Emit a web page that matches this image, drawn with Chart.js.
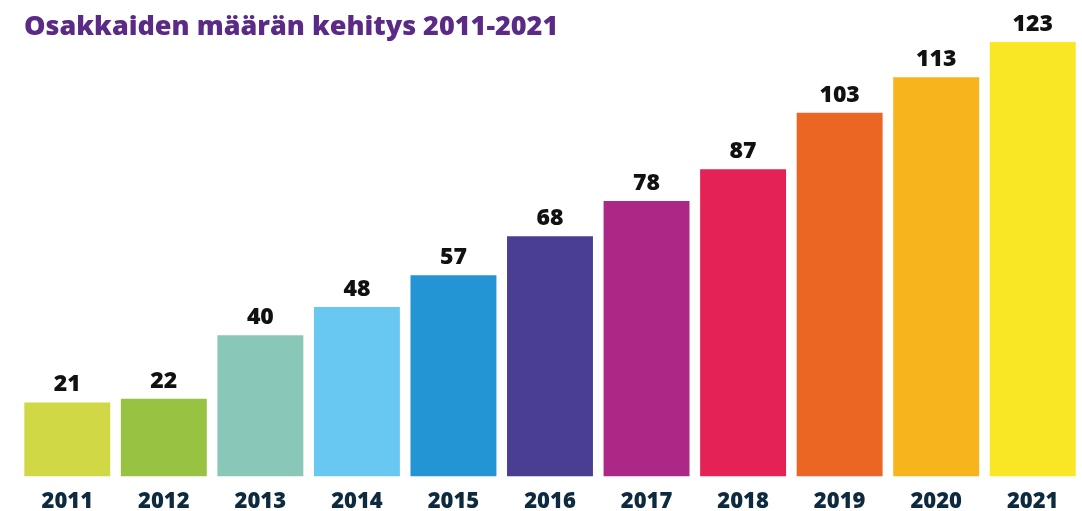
<!DOCTYPE html>
<html>
<head>
<meta charset="utf-8">
<script src="https://cdn.jsdelivr.net/npm/chart.js@4"></script>
<style>
  html, body { margin: 0; padding: 0; background: #fff; }
  #wrap { width: 1082px; height: 511px; }
</style>
</head>
<body>
<div id="wrap"><canvas id="chart"></canvas></div>
<script>
// data
const years = ["2011", "2012", "2013", "2014", "2015", "2016", "2017", "2018", "2019", "2020", "2021"];
const owners = [21, 22, 40, 48, 57, 68, 78, 87, 103, 113, 123];
const barColors = ["#d0d845", "#97c242", "#89c8b8", "#69c8f2", "#2394d4", "#4a3e92",
                   "#ab2886", "#e42256", "#eb6622", "#f7b41c", "#f9e725"];
const titleText = "Osakkaiden määrän kehitys 2011-2021";

// numbers above the bars
const valueLabels = {
    id: "valueLabels",
    afterDatasetsDraw(chart) {
        const ctx = chart.ctx;
        const meta = chart.getDatasetMeta(0);
        ctx.save();
        ctx.font = "800 23px 'Open Sans'";
        ctx.fillStyle = "#111";
        ctx.textAlign = "center";
        ctx.textBaseline = "alphabetic";
        meta.data.forEach((bar, i) => {
            ctx.fillText(owners[i], bar.x, bar.y - 11);
        });
        ctx.restore();
    }
};

// title at top left
const topTitle = {
    id: "topTitle",
    afterDraw(chart) {
        const ctx = chart.ctx;
        ctx.save();
        ctx.font = "800 27px 'Open Sans'";
        ctx.fillStyle = "#5b2a86";
        ctx.textAlign = "left";
        ctx.textBaseline = "middle";
        ctx.fillText(titleText, 24, 27);
        ctx.restore();
    }
};

new Chart(document.getElementById("chart"), {
    type: "bar",
    data: {
        labels: years,
        datasets: [{
            data: owners,
            backgroundColor: barColors,
            barPercentage: 0.89,
            categoryPercentage: 1.0
        }]
    },
    options: {
        responsive: true,
        maintainAspectRatio: false,
        animation: false,
        layout: { padding: { top: 42, left: 19, right: 1, bottom: -16 } },
        plugins: {
            legend: { display: false },
            tooltip: { enabled: false }
        },
        scales: {
            x: {
                grid: { display: false, drawTicks: false },
                border: { display: false },
                ticks: {
                    color: "#0d2a3f",
                    font: { family: "'Open Sans'", size: 22, weight: "800" },
                    padding: 12
                }
            },
            y: {
                display: false,
                min: 0,
                max: 123
            }
        }
    },
    plugins: [valueLabels, topTitle]
});
</script>
</body>
</html>
